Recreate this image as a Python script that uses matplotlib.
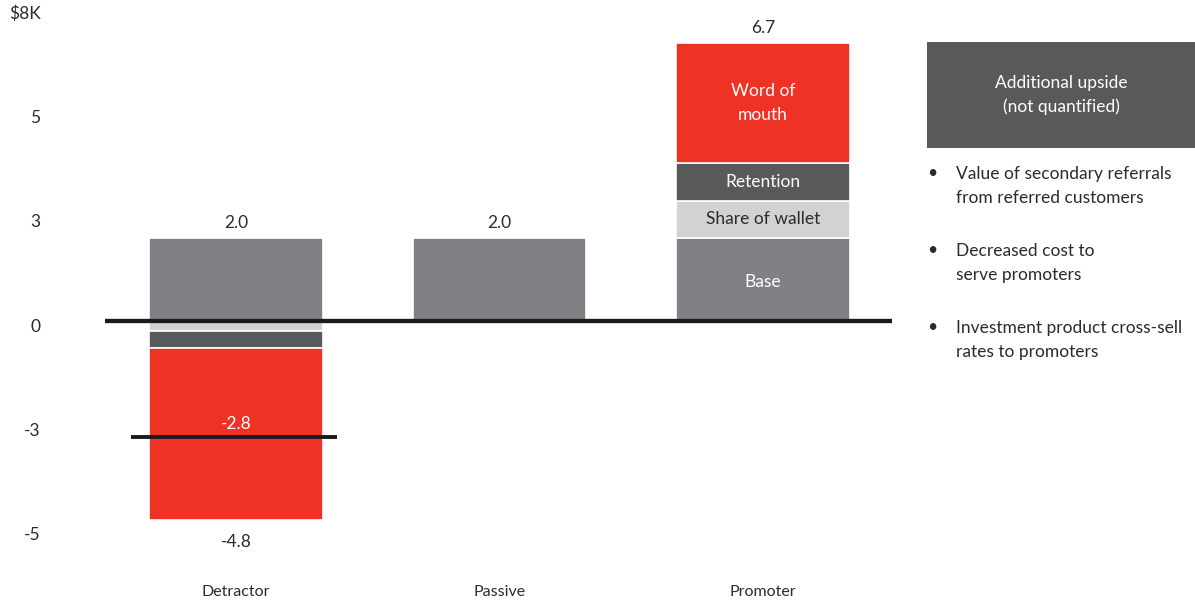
import matplotlib
matplotlib.use("Agg")
import matplotlib.pyplot as plt
from matplotlib.patches import Rectangle
import numpy as np

plt.rcParams['font.family'] = ['Lato', 'DejaVu Sans']

# --- data ($K per customer) ---
categories = ["Detractor", "Passive", "Promoter"]
base_values = [2.0, 2.0, 2.0]
segment_names = ["Share of wallet", "Retention", "Word of mouth"]
detractor_losses = [-0.25, -0.4, -4.15]
promoter_gains = [0.9, 0.9, 2.9]
detractor_net = -2.8
top_labels = ["2.0", "2.0", "6.7"]
tick_labels = ["$8K", "5", "3", "0", "-3", "-5"]
upside_title = "Additional upside\n(not quantified)"
upside_items = [
    "Value of secondary referrals\nfrom referred customers",
    "Decreased cost to\nserve promoters",
    "Investment product cross-sell\nrates to promoters",
]

# --- style ---
C_BASE = "#808184"
C_LIGHT = "#d1d2d4"
C_DARK = "#58595b"
C_RED = "#ee3224"
C_TEXT = "#2b2b2b"
seg_colors = [C_LIGHT, C_DARK, C_RED]
seg_text = [C_TEXT, "white", "white"]

W, H = 1195, 606
fig = plt.figure(figsize=(W / 100, H / 100), dpi=100)
ax = fig.add_axes([60 / W, 0, 1 - 60 / W, 1])

px_x = 263.5   # pixels per category step
px_y = 41.5    # pixels per $1K
x0_px, y0_px = 236, 321
ax.set_xlim((60 - x0_px) / px_x, (W - x0_px) / px_x)
ax.set_ylim((y0_px - H) / px_y, y0_px / px_y)

bw = 0.657
x = np.arange(len(categories))
edge = dict(edgecolor="white", linewidth=1.2)

# base bars
ax.bar(x, base_values, width=bw, color=C_BASE, zorder=2, **edge)

# detractor losses stacked below zero
bottom = 0.0
for v, c in zip(detractor_losses, seg_colors):
    ax.bar(x[0], v, bottom=bottom, width=bw, color=c, zorder=2, **edge)
    bottom += v
det_bottom = bottom

# promoter gains stacked above base
bottom = base_values[2]
for name, v, c, tc in zip(segment_names, promoter_gains, seg_colors, seg_text):
    ax.bar(x[2], v, bottom=bottom, width=bw, color=c, zorder=2, **edge)
    label = "Word of\nmouth" if name == "Word of mouth" else name
    ax.text(x[2], bottom + v / 2, label, ha="center", va="center", color=tc,
            fontsize=12.5, linespacing=1.65, zorder=3)
    bottom += v
prom_top = bottom
ax.text(x[2], base_values[2] / 2 - 0.05, "Base", ha="center", va="center",
        color="white", fontsize=12.5, zorder=3)

# value labels
tops = [base_values[0], base_values[1], prom_top]
for xi, t, lab in zip(x, tops, top_labels):
    ax.annotate(lab, (xi, t), xytext=(0, 5), textcoords="offset points",
                ha="center", va="bottom", fontsize=12.5, color=C_TEXT)
ax.annotate(f"{det_bottom:.1f}", (x[0], det_bottom), xytext=(0, -10),
            textcoords="offset points", ha="center", va="top",
            fontsize=12.5, color=C_TEXT)

# net value marker for detractors
ax.plot([x[0] - 0.40, x[0] + 0.385], [detractor_net, detractor_net],
        color="#1a1a1a", lw=2.8, solid_capstyle="butt", zorder=4)
ax.annotate(f"{detractor_net:.1f}", (x[0], detractor_net), xytext=(0, 4),
            textcoords="offset points", ha="center", va="bottom",
            fontsize=12.5, color="white", zorder=4)

# zero line
ax.plot([-0.497, 2.49], [0, 0], color="#1a1a1a", lw=3.1,
        solid_capstyle="butt", zorder=5)

# axes
ax.set_xticks(x)
ax.set_xticklabels([])
for xi, c in zip(x, categories):
    ax.text(xi, (y0_px - 592) / px_y, c, ha="center", va="center",
            fontsize=11.5, color=C_TEXT)
tick_pos = np.linspace(7.45, -5.13, len(tick_labels))
ax.set_yticks(tick_pos)
ax.set_yticklabels(tick_labels, fontsize=12.5, color=C_TEXT)
ax.tick_params(axis="y", length=0, pad=14)
ax.tick_params(axis="x", length=0)
for s in ax.spines.values():
    s.set_visible(False)

# right-hand panel
fig.patches.append(Rectangle((927 / W, 1 - 148 / H), (W - 927) / W, 106 / H,
                             transform=fig.transFigure, facecolor=C_DARK,
                             edgecolor="none"))
fig.text(1061 / W, 1 - 95 / H, upside_title, ha="center", va="center",
         color="white", fontsize=12.5, linespacing=1.6)
for i, item in enumerate(upside_items):
    yc = 186 + i * 77
    fig.text(932 / W, 1 - (yc - 13) / H, "\u2022", ha="center", va="center",
             fontsize=12.5, color=C_TEXT)
    fig.text(956 / W, 1 - yc / H, item, ha="left", va="center",
             fontsize=12.5, color=C_TEXT, linespacing=1.65)

fig.savefig("out.png", dpi=100)
